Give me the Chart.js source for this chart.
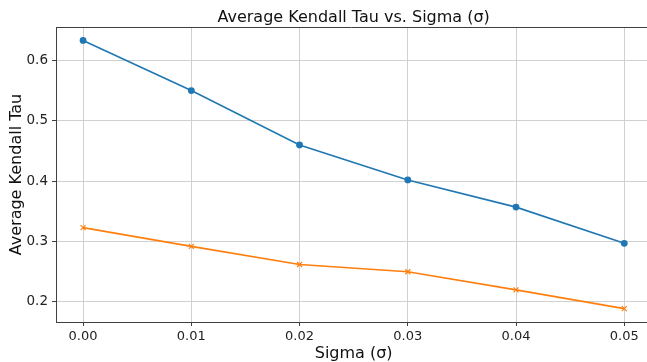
<!DOCTYPE html>
<html>
<head>
<meta charset="utf-8">
<script src="https://cdn.jsdelivr.net/npm/chart.js@4"></script>
<style>
  html, body { margin: 0; padding: 0; background: #fff; overflow: hidden; }
  #wrap { width: 647px; height: 362px; }
</style>
</head>
<body>
<div id="wrap"><canvas id="chart" width="647" height="362"></canvas></div>
<script>
// 데이터
const sigmas = [0.00, 0.01, 0.02, 0.03, 0.04, 0.05];
const seriesBlue = [0.633, 0.550, 0.460, 0.402, 0.357, 0.297];
const seriesOrange = [0.323, 0.292, 0.262, 0.250, 0.220, 0.189];
const xTicks = [0.00, 0.01, 0.02, 0.03, 0.04, 0.05];
const yTicks = [0.2, 0.3, 0.4, 0.5, 0.6];
const TITLE = 'Average Kendall Tau vs. Sigma (σ)';
const X_LABEL = 'Sigma (σ)';

const FONT = "'DejaVu Sans', sans-serif";
const GRID = '#d0d0d0';
const SPINE = '#404040';

// 원본 축 범위(오른쪽이 잘린 그림): 제목 가운데 맞추기용
const FULL_X = [-0.0025, 0.0525];

function drawCentered(ctx, text, x, y) {
	ctx.fillStyle = '#111';
	ctx.font = `16px ${FONT}`;
	ctx.textAlign = 'center';
	ctx.textBaseline = 'alphabetic';
	ctx.fillText(text, x, y);
}

// 위쪽 테두리 + 제목 + x축 제목
const frame = {
	id: 'frame',
	afterDraw(chart) {
		const { ctx, chartArea: a, scales: { x: xs } } = chart;
		ctx.save();
		ctx.strokeStyle = SPINE;
		ctx.lineWidth = 1;
		ctx.beginPath();
		ctx.moveTo(a.left, a.top + 0.5);
		ctx.lineTo(a.right, a.top + 0.5);
		ctx.stroke();
		const cx = (xs.getPixelForValue(FULL_X[0]) + xs.getPixelForValue(FULL_X[1])) / 2;
		drawCentered(ctx, TITLE, cx, a.top - 5);
		drawCentered(ctx, X_LABEL, cx, chart.height - 4.5);
		ctx.restore();
	}
};

const toPts = ys => sigmas.map((x, i) => ({ x, y: ys[i] }));

new Chart(document.getElementById('chart'), {
	type: 'line',
	data: {
		datasets: [
			{ data: toPts(seriesBlue), borderColor: '#1f77b4', backgroundColor: '#1f77b4', borderWidth: 1.6, pointStyle: 'circle', pointRadius: 3.4, pointBorderWidth: 0, tension: 0 },
			{ data: toPts(seriesOrange), borderColor: '#ff7f0e', backgroundColor: '#ff7f0e', borderWidth: 1.6, pointStyle: 'crossRot', pointRadius: 3.5, pointBorderWidth: 1.2, tension: 0 }
		]
	},
	options: {
		responsive: false,
		animation: false,
		devicePixelRatio: 1,
		layout: { autoPadding: false, padding: { left: 7, right: 0, top: 27, bottom: 0 } },
		plugins: {
			legend: { display: false },
			tooltip: { enabled: false },
			title: { display: false }
		},
		scales: {
			x: {
				type: 'linear',
				min: FULL_X[0],
				max: 0.0521,
				afterBuildTicks: s => { s.ticks = xTicks.map(v => ({ value: v })); },
				afterFit: s => { s.height = 40; s.paddingRight = 0; s.paddingLeft = 0; },
				ticks: { color: '#222', font: { family: FONT, size: 13 }, padding: 3, maxRotation: 0, callback: v => v.toFixed(2) },
				grid: { color: GRID, tickColor: SPINE, tickLength: 4, lineWidth: 1 },
				border: { color: SPINE },
				title: { display: false }
			},
			y: {
				min: 0.1668,
				max: 0.6552,
				afterBuildTicks: s => { s.ticks = yTicks.map(v => ({ value: v })); },
				afterFit: s => { s.width = 49; },
				ticks: { color: '#222', font: { family: FONT, size: 13.5 }, padding: 4, callback: v => v.toFixed(1) },
				grid: { color: GRID, tickColor: SPINE, tickLength: 4, lineWidth: 1 },
				border: { color: SPINE },
				title: { display: true, text: 'Average Kendall Tau', color: '#111', font: { family: FONT, size: 16 }, padding: { top: 0, bottom: 0 } }
			}
		}
	},
	plugins: [frame]
});
</script>
</body>
</html>
